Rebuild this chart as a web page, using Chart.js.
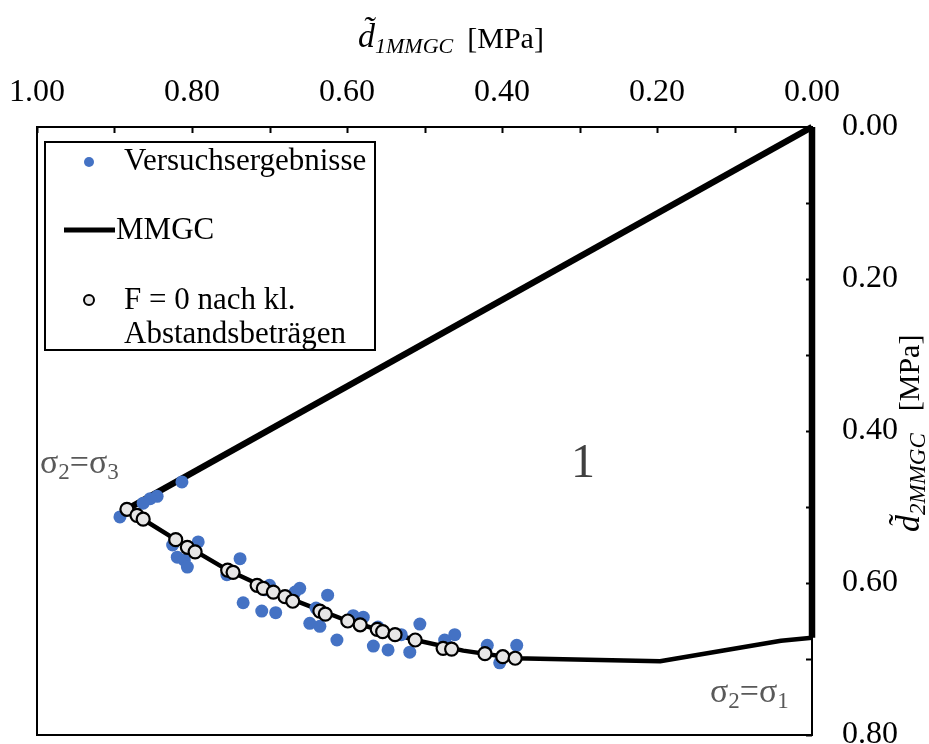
<!DOCTYPE html>
<html>
<head>
<meta charset="utf-8">
<script src="https://cdn.jsdelivr.net/npm/chart.js@4.4.0/dist/chart.umd.min.js"></script>
<style>
  html, body { margin: 0; padding: 0; background: #fff; }
  #wrap { width: 929px; height: 744px; }
</style>
</head>
<body>
<div id="wrap"><canvas id="chart" width="929" height="744"></canvas></div>
<script>
// Versuchsergebnisse: d1 / d2 in MPa
const versuchD1 = [0.813, 0.845, 0.854, 0.863, 0.893, 0.792, 0.825, 0.819, 0.810, 0.806,
  0.738, 0.755, 0.734, 0.710, 0.692, 0.706, 0.661, 0.667, 0.625, 0.648,
  0.635, 0.613, 0.592, 0.579, 0.566, 0.547, 0.560, 0.506, 0.519, 0.474,
  0.461, 0.419, 0.403, 0.381, 0.700, 0.640, 0.590, 0.530, 0.470]
const versuchD2 = [0.467, 0.486, 0.489, 0.495, 0.513, 0.546, 0.550, 0.566, 0.570, 0.579,
  0.568, 0.589, 0.626, 0.637, 0.639, 0.609, 0.607, 0.612, 0.616, 0.653,
  0.657, 0.675, 0.643, 0.645, 0.683, 0.688, 0.658, 0.654, 0.691, 0.675,
  0.668, 0.682, 0.705, 0.682, 0.603, 0.633, 0.648, 0.668, 0.683]

// F = 0 nach kl. Abstandsbetraegen
const nullD1 = [0.884, 0.871, 0.863, 0.821, 0.806, 0.796, 0.754, 0.747, 0.716, 0.708,
  0.695, 0.680, 0.670, 0.635, 0.628, 0.599, 0.583, 0.561, 0.554, 0.538,
  0.512, 0.476, 0.465, 0.422, 0.399, 0.383]
const nullD2 = [0.503, 0.511, 0.516, 0.543, 0.553, 0.559, 0.583, 0.586, 0.603, 0.607,
  0.612, 0.618, 0.624, 0.637, 0.641, 0.650, 0.655, 0.661, 0.664, 0.668,
  0.675, 0.686, 0.687, 0.693, 0.697, 0.699]

// MMGC Grenzkurve (geschlossener Umriss)
const mmgcD1 = [0.000, 0.884, 0.821, 0.754, 0.680, 0.599, 0.512, 0.450, 0.383, 0.196, 0.040, 0.000, 0.000]
const mmgcD2 = [0.000, 0.503, 0.543, 0.583, 0.618, 0.650, 0.675, 0.689, 0.699, 0.703, 0.676, 0.672, 0.000]

// Achsbeschriftungen
const d1Ticks = [0, 0.2, 0.4, 0.6, 0.8, 1.0]
const d2Ticks = [0, 0.2, 0.4, 0.6, 0.8]
const d1Minor = [0, 0.1, 0.2, 0.3, 0.4, 0.5, 0.6, 0.7, 0.8, 0.9, 1.0]
const d2Minor = [0, 0.1, 0.2, 0.3, 0.4, 0.5, 0.6, 0.7, 0.8]

const toPoints = (xs, ys) => xs.map((x, i) => ({ x: x, y: ys[i] }))

const BLUE = '#4472C4'
const SERIF = '"Liberation Serif", "Times New Roman", serif'
const GREY = '#595959'

// text with subscripts: parts = [[text, sub?, italic?], ...]
function drawParts(ctx, parts, x, y, size, subSize, italic) {
  let cx = x
  parts.forEach(([t, sub, it]) => {
    const fs = sub ? subSize : size
    ctx.font = ((it !== undefined ? it : italic) ? 'italic ' : '') + fs + 'px ' + SERIF
    ctx.fillText(t, cx, sub ? y + size * 0.18 : y)
    cx += ctx.measureText(t).width
  })
  return cx
}

const decor = {
  id: 'decor',
  beforeDatasetsDraw(chart) {
    const { ctx, chartArea: a } = chart
    const xs = chart.scales.x, ys = chart.scales.y
    ctx.save()
    ctx.strokeStyle = '#000'
    ctx.lineWidth = 2
    ctx.strokeRect(a.left, a.top, a.right - a.left, a.bottom - a.top)
    // innenliegende Striche
    ctx.beginPath()
    d1Minor.forEach(v => {
      const px = Math.round(xs.getPixelForValue(v)) + 0.5
      ctx.moveTo(px, a.top)
      ctx.lineTo(px, a.top + 6)
    })
    d2Minor.forEach(v => {
      const py = Math.round(ys.getPixelForValue(v)) + 0.5
      ctx.moveTo(a.right, py)
      ctx.lineTo(a.right - 6, py)
    })
    ctx.stroke()

    // Bereichsbeschriftungen
    ctx.fillStyle = GREY
    ctx.textBaseline = 'alphabetic'
    ctx.textAlign = 'left'
    drawParts(ctx, [['σ'], ['2', true], ['='], ['σ'], ['3', true]], 40, 473, 34, 23, false)
    drawParts(ctx, [['σ'], ['2', true], ['='], ['σ'], ['1', true]], 710, 702, 34, 23, false)
    ctx.fillStyle = '#404040'
    ctx.font = '48px ' + SERIF
    ctx.textAlign = 'center'
    ctx.fillText('1', 583, 477)
    ctx.restore()
  },
  afterDraw(chart) {
    const { ctx } = chart
    ctx.save()
    ctx.fillStyle = '#000'
    ctx.textBaseline = 'alphabetic'
    ctx.textAlign = 'left'

    // Titel oben
    let ex = drawParts(ctx, [['d\u0303', false, true], ['1MMGC', true, true]], 358, 47, 34, 22, true)
    ctx.font = '30px ' + SERIF
    ctx.fillText('[MPa]', ex + 14, 48)

    // Titel rechts, gedreht
    ctx.save()
    ctx.translate(919, 532)
    ctx.rotate(-Math.PI / 2)
    ex = drawParts(ctx, [['d\u0303', false, true], ['2MMGC', true, true]], 0, 0, 34, 23, true)
    ctx.font = '30px ' + SERIF
    ctx.fillText('[MPa]', ex + 22, 0)
    ctx.restore()

    // Legende
    const lx = 45, ly = 142, lw = 330, lh = 208
    ctx.fillStyle = '#fff'
    ctx.fillRect(lx, ly, lw, lh)
    ctx.strokeStyle = '#000'
    ctx.lineWidth = 2
    ctx.strokeRect(lx, ly, lw, lh)

    ctx.fillStyle = BLUE
    ctx.beginPath()
    ctx.arc(89, 162, 5, 0, Math.PI * 2)
    ctx.fill()

    ctx.strokeStyle = '#000'
    ctx.lineWidth = 5
    ctx.beginPath()
    ctx.moveTo(64, 230)
    ctx.lineTo(115, 230)
    ctx.stroke()

    ctx.fillStyle = '#E7E6E6'
    ctx.lineWidth = 2
    ctx.beginPath()
    ctx.arc(89, 300, 5, 0, Math.PI * 2)
    ctx.fill()
    ctx.stroke()

    ctx.fillStyle = '#000'
    ctx.font = '31px ' + SERIF
    ctx.fillText('Versuchsergebnisse', 124, 170)
    ctx.fillText('MMGC', 116, 239)
    ctx.fillText('F = 0 nach kl.', 124, 309)
    ctx.fillText('Abstandsbeträgen', 124, 343)
    ctx.restore()
  }
}

const lastSeg = mmgcD1.length - 2

new Chart(document.getElementById('chart'), {
  type: 'scatter',
  data: {
    datasets: [
      {
        label: 'F = 0 nach kl. Abstandsbeträgen',
        data: toPoints(nullD1, nullD2),
        pointRadius: 6.5,
        pointBorderWidth: 2.2,
        pointBackgroundColor: '#E7E6E6',
        pointBorderColor: '#000',
        order: 0
      },
      {
        label: 'Versuchsergebnisse',
        data: toPoints(versuchD1, versuchD2),
        pointRadius: 6.5,
        pointBorderWidth: 0,
        pointBackgroundColor: BLUE,
        pointBorderColor: BLUE,
        order: 1
      },
      {
        label: 'MMGC',
        data: toPoints(mmgcD1, mmgcD2),
        showLine: true,
        pointRadius: 0,
        borderColor: '#000',
        borderWidth: 4.5,
        borderJoinStyle: 'round',
        segment: {
          borderWidth: c => (c.p0DataIndex === 0 || c.p0DataIndex === lastSeg) ? 6.5 : 4.5
        },
        clip: 6,
        order: 2
      }
    ]
  },
  options: {
    responsive: false,
    animation: false,
    devicePixelRatio: 1,
    layout: { padding: { left: 37, right: 0, top: 0, bottom: 9 } },
    plugins: {
      legend: { display: false },
      tooltip: { enabled: false }
    },
    scales: {
      x: {
        type: 'linear',
        position: 'top',
        reverse: true,
        min: 0,
        max: 1,
        afterBuildTicks: s => { s.ticks = d1Ticks.map(v => ({ value: v })) },
        afterFit: s => { s.height = 127; s.paddingLeft = 0; s.paddingRight = 0 },
        ticks: {
          callback: v => Number(v).toFixed(2),
          color: '#000',
          font: { family: SERIF, size: 32 },
          padding: 15,
          maxRotation: 0,
          autoSkip: false
        },
        grid: { display: false, drawTicks: false },
        border: { display: false }
      },
      y: {
        type: 'linear',
        position: 'right',
        reverse: true,
        min: 0,
        max: 0.8,
        afterBuildTicks: s => { s.ticks = d2Ticks.map(v => ({ value: v })) },
        afterFit: s => { s.width = 117; s.paddingTop = 0; s.paddingBottom = 0 },
        ticks: {
          callback: v => Number(v).toFixed(2),
          color: '#000',
          font: { family: SERIF, size: 32 },
          padding: 30,
          autoSkip: false
        },
        grid: { display: false, drawTicks: false },
        border: { display: false }
      }
    }
  },
  plugins: [decor]
})
</script>
</body>
</html>
